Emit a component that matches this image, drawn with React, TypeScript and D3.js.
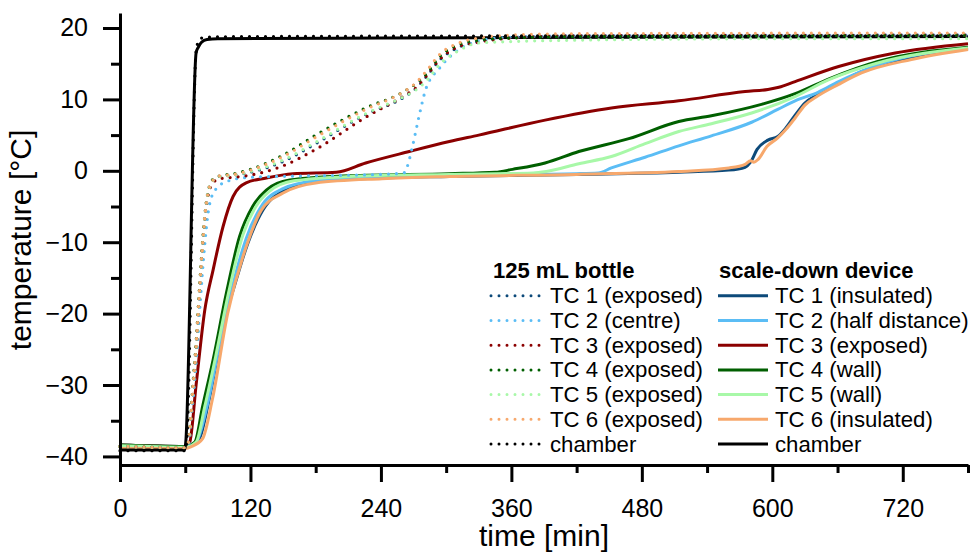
import React, { useEffect, useRef } from "react";
import * as d3 from "d3";

type P = [number, number];

// ---- axis ticks ----
const xMajorTicks = [0, 120, 240, 360, 480, 600, 720];
const xMinorTicks = [60, 180, 300, 420, 540, 660, 780];
const yMajorTicks = [-40, -30, -20, -10, 0, 10, 20];
const yMinorTicks = [-35, -25, -15, -5, 5, 15];

// ---- 125 mL bottle (dotted) ----
const bottleTC1: P[] = [[0,-38.6],[60,-38.8],[62,-38.6],[64,-37],[67,-31],[70,-25],[73,-17.5],[76,-10.5],[79,-5.2],[82,-2.6],[86,-1.3],[92,-0.8],[105,-0.6],[120,-0.2],[150,1.3],[180,3.8],[226,7.9],[260,10.2],[272,11.5],[283,13.4],[294,15.5],[310,17.2],[330,18.1],[360,18.7],[420,18.9],[780,19.0]];
const bottleTC2: P[] = [[0,-38.6],[60,-38.8],[63,-38.5],[66,-34],[70,-27],[74,-18],[77,-12],[82,-5],[88,-2.6],[100,-1.4],[120,-0.9],[180,-0.7],[240,-0.5],[261,-0.3],[264,0.5],[269,3.4],[275,7.6],[281,11.3],[294,14.4],[310,16.8],[330,18.2],[360,18.7],[420,18.9],[780,19.0]];
const bottleTC3: P[] = [[0,-38.6],[60,-38.8],[62,-38.6],[64,-37],[67,-31],[70,-25],[73,-17.5],[76,-10.5],[79,-5.4],[82,-2.9],[86,-1.6],[92,-1.1],[105,-0.9],[120,-0.6],[150,0.7],[180,3.0],[226,7.5],[260,10.4],[272,11.6],[283,13.5],[294,15.6],[310,17.3],[330,18.0],[360,18.6],[420,18.9],[780,19.0]];
const bottleTC4: P[] = [[0,-38.6],[60,-38.8],[62,-38.5],[64,-36.5],[67,-30],[70,-24],[73,-16.5],[76,-9.8],[79,-4.8],[82,-2.3],[86,-1.1],[92,-0.7],[105,-0.4],[120,0.2],[150,2.2],[180,5.0],[226,8.8],[260,11.0],[272,12.2],[283,13.8],[294,16.0],[310,17.6],[330,18.3],[360,18.6],[420,18.8],[600,18.9],[780,19.0]];
const bottleTC5: P[] = [[0,-38.6],[60,-38.8],[62,-38.6],[64,-37],[67,-31],[70,-25],[73,-17.5],[76,-10.5],[79,-5.2],[82,-2.6],[86,-1.3],[92,-0.8],[105,-0.6],[120,-0.1],[150,1.5],[180,4.0],[226,8.0],[260,10.3],[272,11.3],[283,12.8],[294,14.9],[310,16.7],[330,17.9],[360,18.1],[420,18.3],[600,18.5],[780,18.5]];
const bottleTC6: P[] = [[0,-38.6],[60,-38.8],[62,-38.5],[64,-36.5],[67,-30.5],[70,-24.5],[73,-17],[76,-10.2],[79,-5],[82,-2.4],[86,-1.2],[92,-0.7],[105,-0.5],[120,0.1],[150,2.0],[180,4.7],[226,8.6],[260,11.0],[272,12.3],[283,14.2],[294,16.3],[310,17.8],[330,18.6],[360,19.0],[420,19.2],[780,19.3]];
const bottleChamber: P[] = [[0,-39.2],[60,-39.2],[61.5,-37.5],[70,16.8],[71.5,17.9],[73,18.4],[78,18.7],[120,18.8],[480,18.9],[780,18.9]];

// ---- scale-down device (solid) ----
const deviceTC1: P[] = [[0,-38.5],[60,-38.7],[64,-38.5],[73,-37.5],[82,-32],[96,-21],[105.5,-16],[117.7,-10.1],[131.5,-5.5],[156,-2.4],[180,-1.5],[241,-1.0],[303,-0.8],[420,-0.5],[514,-0.2],[560,0.1],[575,0.5],[580,1.2],[586,3.0],[596,4.3],[605,4.8],[612,5.9],[621,7.8],[630,9.5],[642,10.7],[661,12.3],[682,13.9],[728,15.8],[780,17.1]];
const deviceTC2: P[] = [[0,-38.4],[60,-38.6],[70,-38],[80,-33],[92,-24],[103,-16.5],[116,-9.5],[129,-5.2],[150,-2.5],[180,-1.4],[241,-0.9],[303,-0.6],[420,-0.4],[440,-0.3],[452,0.4],[483,1.9],[514,3.5],[544,4.9],[581,6.8],[605,8.6],[621,9.8],[642,11.0],[661,12.5],[697,14.8],[780,17.2]];
const deviceTC3: P[] = [[0,-38.4],[60,-38.6],[64,-38.1],[70,-30],[78,-19.5],[85.6,-13.9],[94.8,-7.8],[104,-3.6],[116,-1.7],[134.6,-1.0],[159,-0.4],[199,-0.2],[226,1.1],[266,2.7],[303,4.1],[330,5.0],[391,7.1],[452,8.8],[514,9.8],[575,11.1],[596,11.4],[606,11.7],[621,12.5],[661,14.6],[713,16.5],[780,17.8]];
const deviceTC4: P[] = [[0,-38.4],[60,-38.6],[68.8,-38],[76,-33],[85.6,-26.5],[97.9,-17.1],[110,-9.2],[122,-5],[134.6,-2.7],[156,-1.3],[211,-0.7],[303,-0.4],[345,-0.2],[361,0.2],[391,1.1],[422,2.7],[468,4.5],[514,6.9],[544,7.7],[590,9.3],[621,10.8],[651,12.8],[697,15.3],[780,17.3]];
const deviceTC5: P[] = [[0,-38.5],[60,-38.7],[70,-38],[78,-33],[88,-26],[100,-17],[113,-9],[125,-5],[138,-2.8],[160,-1.4],[211,-0.8],[303,-0.5],[380,-0.3],[392,-0.1],[422,1.0],[452,2.0],[483,3.8],[514,5.5],[544,6.6],[581,8.1],[621,10.4],[651,12.7],[697,15.1],[780,17.2]];
const deviceTC6: P[] = [[0,-38.9],[60,-38.9],[66,-38.6],[76,-37.5],[85,-32],[99,-20],[117.5,-10],[130,-5.5],[150,-3.1],[180,-1.7],[241,-1.1],[303,-0.8],[420,-0.5],[514,-0.1],[560,0.4],[575,0.9],[580,1.4],[583,1.2],[587,1.6],[595,3.4],[605,4.6],[612,5.7],[621,7.4],[630,9.2],[642,10.5],[661,12.1],[682,13.7],[728,15.6],[780,17.0]];
const deviceChamber: P[] = [[0,-39.1],[59.5,-39.1],[60.5,-38],[70,16.5],[72,17.3],[75,18.0],[80,18.4],[90,18.5],[240,18.6],[480,18.7],[780,18.8]];

const tcColors = ["#0d4a7a", "#5bbdf5", "#8b0000", "#005f00", "#a8f8a8", "#f7a86c", "#000000"];
const bottleLabels = ["TC 1 (exposed)", "TC 2 (centre)", "TC 3 (exposed)", "TC 4 (exposed)", "TC 5 (exposed)", "TC 6 (exposed)", "chamber"];
const deviceLabels = ["TC 1 (insulated)", "TC 2 (half distance)", "TC 3 (exposed)", "TC 4 (wall)", "TC 5 (wall)", "TC 6 (insulated)", "chamber"];
const bottleSeries = [bottleTC1, bottleTC2, bottleTC3, bottleTC4, bottleTC5, bottleTC6, bottleChamber];
const deviceSeries = [deviceTC1, deviceTC2, deviceTC3, deviceTC4, deviceTC5, deviceTC6, deviceChamber];

const W = 970;
const H = 554;
const FONT = "'Liberation Sans', Arial, sans-serif";

export default function App() {
  const xAxisRef = useRef<SVGGElement>(null);
  const yAxisRef = useRef<SVGGElement>(null);

  const x = d3.scaleLinear().domain([0, 780]).range([120, 968]);
  const y = d3.scaleLinear().domain([-41.2, 22.1]).range([465, 13]);
  const line = d3
    .line<P>()
    .x((d) => x(d[0]))
    .y((d) => y(d[1]))
    .curve(d3.curveMonotoneX);

  useEffect(() => {
    document.body.style.margin = "0";
    const gx = d3.select(xAxisRef.current!);
    gx.selectAll("*").remove();
    const gxMinor = gx.append("g");
    gxMinor.call(d3.axisBottom(x).tickValues(xMinorTicks).tickSize(8).tickSizeOuter(0).tickFormat(() => ""));
    const gxMajor = gx.append("g");
    gxMajor.call(d3.axisBottom(x).tickValues(xMajorTicks).tickSize(17).tickSizeOuter(0).tickPadding(17).tickFormat(d3.format("d")));

    const gy = d3.select(yAxisRef.current!);
    gy.selectAll("*").remove();
    const gyMinor = gy.append("g");
    gyMinor.call(d3.axisLeft(y).tickValues(yMinorTicks).tickSize(9).tickSizeOuter(0).tickFormat(() => ""));
    const gyMajor = gy.append("g");
    gyMajor.call(d3.axisLeft(y).tickValues(yMajorTicks).tickSize(17).tickSizeOuter(0).tickPadding(15).tickFormat(d3.format("d")));

    [gx, gy].forEach((g) => {
      g.selectAll(".domain").attr("stroke", "#000").attr("stroke-width", 3);
      g.selectAll(".tick line").attr("stroke", "#000").attr("stroke-width", 3);
      g.selectAll(".tick text").attr("fill", "#000").style("font-family", FONT).style("font-size", "25px");
    });
    gxMinor.select(".domain").remove();
    gyMinor.select(".domain").remove();
  }, []);

  const legendRowY = (i: number) => 303.3 + i * 24.7;

  return (
    <svg width={W} height={H} style={{ display: "block", position: "absolute", left: 0, top: 0, background: "#fff" }}>
      <rect x={0} y={0} width={W} height={H} fill="#fff" />
      {/* device solid lines */}
      {deviceSeries.map((s, i) => (
        <path key={"d" + i} d={line(s) || ""} fill="none" stroke={tcColors[i]} strokeWidth={3} strokeLinejoin="round" />
      ))}
      {/* bottle dotted lines */}
      {bottleSeries.map((s, i) => (
        <path key={"b" + i} d={line(s) || ""} fill="none" stroke={tcColors[i]} strokeWidth={3.2} strokeDasharray="0 8" strokeLinecap="round" />
      ))}
      <g ref={xAxisRef} transform={`translate(0,${y(-41.2)})`} />
      <g ref={yAxisRef} transform={`translate(${x(0)},0)`} />
      <text x={(120 + 968) / 2} y={546} textAnchor="middle" fontFamily={FONT} fontSize={30} fill="#000">
        time [min]
      </text>
      <text transform={`translate(31,240) rotate(-90)`} textAnchor="middle" fontFamily={FONT} fontSize={30} fill="#000">
        temperature [°C]
      </text>
      {/* legend */}
      <g fontFamily={FONT} fill="#000">
        <text x={493} y={278.3} fontWeight="bold" fontSize={22}>125 mL bottle</text>
        <text x={719} y={278.3} fontWeight="bold" fontSize={22}>scale-down device</text>
        {bottleLabels.map((lab, i) => (
          <g key={"lb" + i}>
            <line x1={491} x2={540} y1={legendRowY(i) - 7.5} y2={legendRowY(i) - 7.5} stroke={tcColors[i]} strokeWidth={3} strokeDasharray="0 8" strokeLinecap="round" />
            <text x={550} y={legendRowY(i)} fontSize={22.2}>{lab}</text>
          </g>
        ))}
        {deviceLabels.map((lab, i) => (
          <g key={"ld" + i}>
            <line x1={718} x2={768} y1={legendRowY(i) - 7.5} y2={legendRowY(i) - 7.5} stroke={tcColors[i]} strokeWidth={3} />
            <text x={775} y={legendRowY(i)} fontSize={22.2}>{lab}</text>
          </g>
        ))}
      </g>
    </svg>
  );
}
